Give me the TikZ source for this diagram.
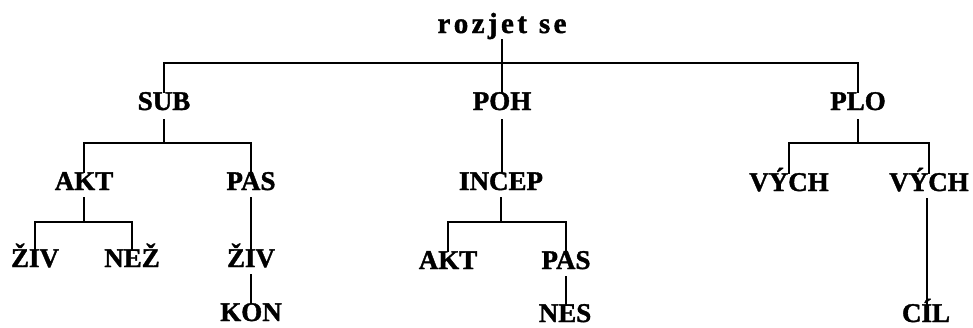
\documentclass[tikz,border=0pt]{standalone}
\usepackage{fontspec}
\setmainfont{Liberation Serif}
% heavy bold face for all labels
\newfontfamily\heavy[FakeBold=1.4]{Liberation Serif Bold}
% letter spacing for the spaced-out root word
\newcommand\lsp{\kern3.4pt}
\tikzset{
  lbl/.style={font=\heavy\fontsize{27}{27}\selectfont, inner sep=0pt,
              text height=17.8pt, text depth=0pt, anchor=base},
  edge/.style={line width=1.8pt, line cap=rect}
}
\begin{document}
\begin{tikzpicture}[x=1pt,y=-1pt]
\useasboundingbox (0,0) rectangle (973,327);
% bar levels
\coordinate (b1) at (0,63);
\coordinate (b2) at (0,143);
\coordinate (b3) at (0,222);
% nodes
\node[lbl, font=\heavy\fontsize{29}{29}\selectfont] (root) at (502,33)
  {r\lsp o\lsp z\lsp j\lsp e\lsp t\kern12pt s\lsp e};
\node[lbl] (sub)   at (164,110) {SUB};
\node[lbl] (poh)   at (502,110) {POH};
\node[lbl] (plo)   at (858,110) {PLO};
\node[lbl] (akt)   at (84,190)  {AKT};
\node[lbl] (pas)   at (251,190) {PAS};
\node[lbl] (incep) at (501,190) {INCEP};
\node[lbl] (vych1) at (789,191) {VÝCH};
\node[lbl] (vych2) at (929,191) {VÝCH};
\node[lbl] (ziv1)  at (35,267)  {ŽIV};
\node[lbl] (nez)   at (132,267) {NEŽ};
\node[lbl] (ziv2)  at (251,267) {ŽIV};
\node[lbl] (akt2)  at (448,269) {AKT};
\node[lbl] (pas2)  at (566,269) {PAS};
\node[lbl] (kon)   at (251,321) {KON};
\node[lbl] (nes)   at (565,322) {NES};
\node[lbl] (cil)   at (926,322) {CÍL};
% root -> SUB, POH, PLO
\draw[edge] ([yshift=-7pt]root.south) -- (root.south |- b1);
\draw[edge] (sub.north |- b1) -- (plo.north |- b1);
\draw[edge] (sub.north |- b1) -- (sub.north);
\draw[edge] (poh.north |- b1) -- (poh.north);
\draw[edge] (plo.north |- b1) -- (plo.north);
% SUB -> AKT, PAS
\draw[edge] ([yshift=-10pt]sub.south) -- (sub.south |- b2);
\draw[edge] (akt.north |- b2) -- (pas.north |- b2);
\draw[edge] (akt.north |- b2) -- (akt.north);
\draw[edge] (pas.north |- b2) -- (pas.north);
% PLO -> VÝCH, VÝCH
\draw[edge] ([yshift=-10pt]plo.south) -- (plo.south |- b2);
\draw[edge] (vych1.north |- b2) -- (vych2.north |- b2);
\draw[edge] (vych1.north |- b2) -- (vych1.north);
\draw[edge] (vych2.north |- b2) -- (vych2.north);
% AKT -> ŽIV, NEŽ
\draw[edge] ([yshift=-8pt]akt.south) -- (akt.south |- b3);
\draw[edge] (ziv1.north |- b3) -- (nez.north |- b3);
\draw[edge] (ziv1.north |- b3) -- (ziv1.north);
\draw[edge] (nez.north |- b3) -- (nez.north);
% INCEP -> AKT, PAS
\draw[edge] ([yshift=-8pt]incep.south) -- (incep.south |- b3);
\draw[edge] (akt2.north |- b3) -- (pas2.north |- b3);
\draw[edge] (akt2.north |- b3) -- (akt2.north);
\draw[edge] (pas2.north |- b3) -- (pas2.north);
% single-child chains
\draw[edge] ([yshift=-10pt]poh.south) -- (poh.south |- incep.north);
\draw[edge] ([yshift=-8pt]pas.south) -- ([yshift=-6pt]pas.south |- ziv2.north);
\draw[edge] ([yshift=-8pt]ziv2.south) -- (ziv2.south |- kon.north);
\draw[edge] ([yshift=-8pt]pas2.south) -- (pas2.south |- nes.north);
\draw[edge] ([xshift=-2pt,yshift=-8pt]vych2.south) -- ([xshift=-2pt]vych2.south |- cil.north);
\end{tikzpicture}
\end{document}
